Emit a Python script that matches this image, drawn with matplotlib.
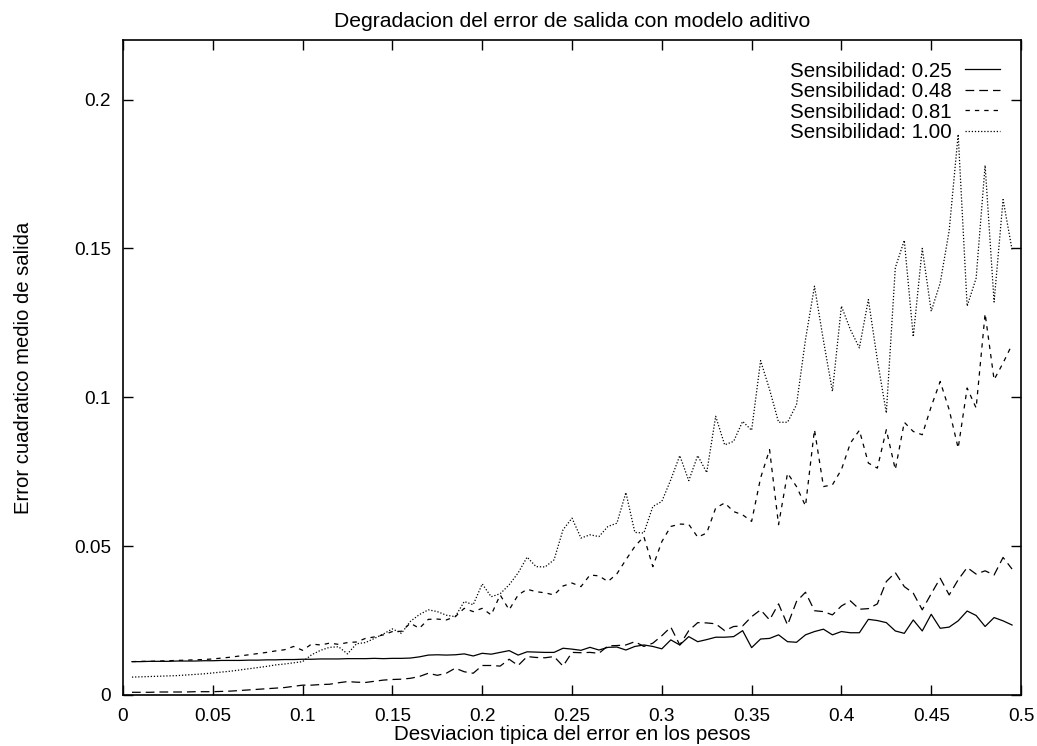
import matplotlib
matplotlib.use("Agg")
import matplotlib.pyplot as plt
import numpy as np

# desviacion tipica del error en los pesos (0.005 ... 0.495)
desviacion = np.arange(1, 100) * 0.005

sens_025 = [
    0.0112, 0.0112, 0.0113, 0.0113, 0.0113, 0.0114, 0.0114, 0.0114, 0.0115, 0.0115,
    0.0116, 0.0116, 0.0116, 0.0117, 0.0117, 0.0118, 0.0118, 0.0119, 0.0119, 0.0120,
    0.0120, 0.0121, 0.0121, 0.0121, 0.0122, 0.0122, 0.0122, 0.0123, 0.0122, 0.0123,
    0.0123, 0.0124, 0.0128, 0.0134, 0.0135, 0.0134, 0.0135, 0.0138, 0.0131, 0.0140,
    0.0137, 0.0143, 0.0149, 0.0134, 0.0145, 0.0144, 0.0143, 0.0143, 0.0157, 0.0154,
    0.0150, 0.0160, 0.0151, 0.0160, 0.0161, 0.0151, 0.0163, 0.0168, 0.0163, 0.0155,
    0.0185, 0.0168, 0.0196, 0.0179, 0.0186, 0.0194, 0.0194, 0.0196, 0.0216, 0.0159,
    0.0188, 0.0190, 0.0202, 0.0179, 0.0177, 0.0202, 0.0213, 0.0221, 0.0202, 0.0213,
    0.0209, 0.0209, 0.0254, 0.0250, 0.0243, 0.0215, 0.0207, 0.0252, 0.0215, 0.0271,
    0.0224, 0.0228, 0.0249, 0.0282, 0.0267, 0.0230, 0.0260, 0.0249, 0.0235,
]

sens_048 = [
    0.0009, 0.0009, 0.0009, 0.0010, 0.0010, 0.0010, 0.0010, 0.0011, 0.0011, 0.0011,
    0.0012, 0.0013, 0.0015, 0.0017, 0.0019, 0.0021, 0.0023, 0.0025, 0.0029, 0.0033,
    0.0033, 0.0035, 0.0036, 0.0041, 0.0045, 0.0043, 0.0042, 0.0046, 0.0050, 0.0052,
    0.0053, 0.0056, 0.0062, 0.0073, 0.0066, 0.0073, 0.0090, 0.0078, 0.0073, 0.0099,
    0.0099, 0.0097, 0.0120, 0.0099, 0.0129, 0.0126, 0.0125, 0.0129, 0.0097, 0.0143,
    0.0142, 0.0143, 0.0140, 0.0165, 0.0166, 0.0168, 0.0179, 0.0163, 0.0174, 0.0199,
    0.0228, 0.0168, 0.0216, 0.0243, 0.0242, 0.0239, 0.0216, 0.0230, 0.0232, 0.0263,
    0.0286, 0.0252, 0.0306, 0.0235, 0.0314, 0.0345, 0.0283, 0.0280, 0.0269, 0.0299,
    0.0316, 0.0288, 0.0290, 0.0306, 0.0381, 0.0411, 0.0364, 0.0342, 0.0286, 0.0340,
    0.0392, 0.0336, 0.0387, 0.0428, 0.0406, 0.0417, 0.0403, 0.0462, 0.0423,
]

sens_081 = [
    0.0112, 0.0113, 0.0113, 0.0114, 0.0115, 0.0116, 0.0117, 0.0118, 0.0119, 0.0121,
    0.0124, 0.0127, 0.0131, 0.0135, 0.0139, 0.0143, 0.0148, 0.0152, 0.0163, 0.0150,
    0.0171, 0.0168, 0.0174, 0.0170, 0.0176, 0.0178, 0.0190, 0.0195, 0.0202, 0.0213,
    0.0214, 0.0241, 0.0224, 0.0254, 0.0255, 0.0252, 0.0263, 0.0291, 0.0280, 0.0291,
    0.0269, 0.0336, 0.0286, 0.0336, 0.0355, 0.0347, 0.0343, 0.0336, 0.0366, 0.0376,
    0.0364, 0.0403, 0.0400, 0.0381, 0.0407, 0.0454, 0.0499, 0.0532, 0.0431, 0.0515,
    0.0566, 0.0574, 0.0573, 0.0530, 0.0544, 0.0628, 0.0645, 0.0616, 0.0605, 0.0583,
    0.0729, 0.0824, 0.0572, 0.0745, 0.0700, 0.0635, 0.0891, 0.0700, 0.0706, 0.0757,
    0.0846, 0.0889, 0.0779, 0.0762, 0.0891, 0.0757, 0.0916, 0.0885, 0.0874, 0.0969,
    0.1053, 0.0958, 0.0829, 0.1031, 0.0964, 0.1281, 0.1059, 0.1115, 0.1177,
]

sens_100 = [
    0.0060, 0.0061, 0.0062, 0.0063, 0.0064, 0.0065, 0.0067, 0.0069, 0.0071, 0.0074,
    0.0077, 0.0080, 0.0084, 0.0088, 0.0092, 0.0096, 0.0101, 0.0104, 0.0108, 0.0112,
    0.0135, 0.0150, 0.0160, 0.0162, 0.0138, 0.0172, 0.0176, 0.0190, 0.0205, 0.0222,
    0.0207, 0.0247, 0.0270, 0.0286, 0.0280, 0.0268, 0.0263, 0.0314, 0.0303, 0.0373,
    0.0330, 0.0340, 0.0370, 0.0410, 0.0463, 0.0431, 0.0430, 0.0454, 0.0555, 0.0594,
    0.0527, 0.0538, 0.0532, 0.0566, 0.0577, 0.0680, 0.0546, 0.0544, 0.0633, 0.0650,
    0.0723, 0.0804, 0.0720, 0.0804, 0.0747, 0.0936, 0.0840, 0.0852, 0.0919, 0.0889,
    0.1123, 0.1026, 0.0916, 0.0916, 0.0975, 0.1194, 0.1373, 0.1190, 0.1020, 0.1306,
    0.1227, 0.1166, 0.1328, 0.1126, 0.0947, 0.1435, 0.1527, 0.1203, 0.1500, 0.1289,
    0.1384, 0.1560, 0.1883, 0.1306, 0.1400, 0.1779, 0.1320, 0.1664, 0.1496,
]

series = [
    ("Sensibilidad: 0.25", sens_025, "-"),
    ("Sensibilidad: 0.48", sens_048, (0, (7, 4))),
    ("Sensibilidad: 0.81", sens_081, (0, (3.5, 4))),
    ("Sensibilidad: 1.00", sens_100, (0, (1, 1.5))),
]

plt.rcParams["font.family"] = ["Liberation Sans", "DejaVu Sans"]
plt.rcParams["font.size"] = 12.7

fig = plt.figure(figsize=(10.37, 7.46), dpi=100)
ax = fig.add_axes([0.1186, 0.0684, 0.866, 0.878])

for label, vals, ls in series:
    ax.plot(desviacion, vals, color="black", linestyle=ls, linewidth=0.9, label=label)

ax.set_xlim(0, 0.5)
ax.set_ylim(0, 0.22)
xt = [0, 0.05, 0.1, 0.15, 0.2, 0.25, 0.3, 0.35, 0.4, 0.45, 0.5]
yt = [0, 0.05, 0.1, 0.15, 0.2]
ax.set_xticks(xt)
ax.set_xticklabels(["0", "0.05", "0.1", "0.15", "0.2", "0.25", "0.3", "0.35", "0.4", "0.45", "0.5"])
ax.set_yticks(yt)
ax.set_yticklabels(["0", "0.05", "0.1", "0.15", "0.2"])
ax.tick_params(direction="in", length=7, width=1, top=True, right=True, labelsize=13.7)
ax.tick_params(axis="x", pad=9.5)
ax.tick_params(axis="y", pad=8.5)
for sp in ax.spines.values():
    sp.set_linewidth(1.2)

ax.set_title("Degradacion del error de salida con modelo aditivo", pad=9)
ax.set_xlabel("Desviacion tipica del error en los pesos", labelpad=0, fontsize=14.8)
ax.set_ylabel("Error cuadratico medio de salida", labelpad=30, fontsize=14.6)

ax.legend(loc="upper right", frameon=False, markerfirst=False, handlelength=1.7,
          labelspacing=0.07, borderaxespad=0.0, handletextpad=0.63,
          fontsize=14.8, bbox_to_anchor=(0.9855, 0.9795))

fig.savefig("out.png", dpi=100)
